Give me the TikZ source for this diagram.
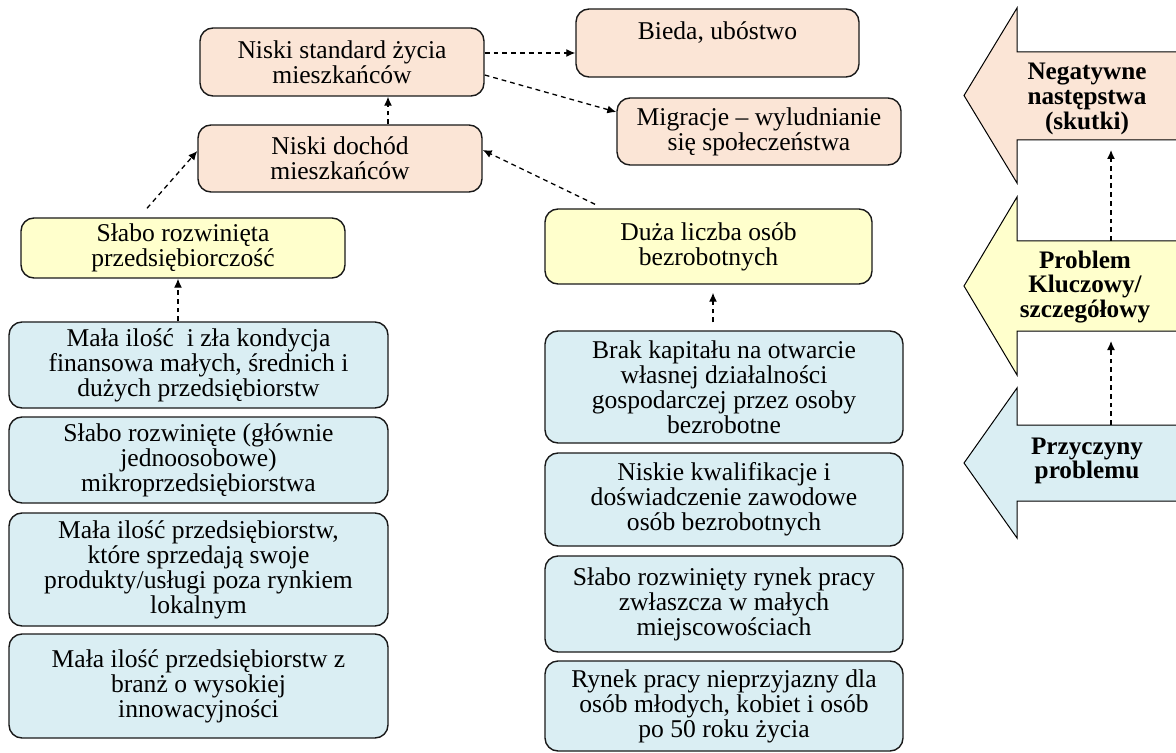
\documentclass[tikz,border=0pt]{standalone}
\usepackage{fontspec}
\setmainfont{Liberation Serif}
\usetikzlibrary{arrows.meta}
\definecolor{peach}{RGB}{251, 229, 214}
\definecolor{lemon}{RGB}{255, 255, 204}
\definecolor{sky}{RGB}{218, 238, 243}

\begin{document}
\begin{tikzpicture}[x=0.5pt, y=-0.5pt,
    box/.style={draw=black!90, line width=0.7pt, rounded corners=6.5pt, inner sep=0pt,
      align=center, font=\fontsize{12.8}{12.5}\selectfont},
    effect/.style={box, fill=peach},
    key/.style={box, fill=lemon},
    cause/.style={box, fill=sky},
    tag/.style={align=center, font=\fontsize{12.6}{12.3}\selectfont\bfseries},
    link/.style={dashed, dash pattern=on 2.4pt off 2pt, line width=0.65pt,
      -{Latex[length=4.5pt, width=4pt]}}]
  \useasboundingbox (0, 0) rectangle (1176, 753);

  % big arrows on the right
  \foreach \col/\ht/\st/\sb/\hb in {peach/8/52/140/183, lemon/197/241/331/375, sky/388/425/501/538} {
    \filldraw[fill=\col, draw=black, line width=0.5pt]
      (1190, \st) -- (1017, \st) -- (1017, \ht) -- (964, {(\ht + \hb) / 2})
      -- (1017, \hb) -- (1017, \sb) -- (1190, \sb);
  }
  \node[tag] (neg) at (1087, 99) {Negatywne\\następstwa\\(skutki)};
  \node[tag] (prob) at (1085, 287) {Problem\\Kluczowy/\\szczegółowy};
  \node[tag] (prz) at (1087, 461) {Przyczyny\\problemu};

  \coordinate (negbot) at (1111, 140);
  \coordinate (probtop) at (1111, 241);
  \coordinate (probbot) at (1111, 331);
  \coordinate (prztop) at (1111, 425);
  \draw[link, shorten >=5pt] (probtop) -- (negbot);
  \draw[link, shorten >=5pt] (prztop) -- (probbot);

  % effects
  \node[effect, minimum width=142pt, minimum height=34pt] (std) at (342, 62)
    {Niski standard życia\\mieszkańców};
  \node[effect, minimum width=142pt, minimum height=33.5pt] (doch) at (340, 158.5)
    {Niski dochód\\mieszkańców};
  \node[effect, minimum width=141.5pt, minimum height=34pt] (bieda) at (717.5, 43)
    {Bieda, ubóstwo\\~};
  \node[effect, minimum width=142pt, minimum height=33.5pt] (migr) at (759, 131.5)
    {Migracje – wyludnianie\\się społeczeństwa};

  % key problems
  \node[key, minimum width=162pt, minimum height=30pt] (slabo) at (183, 248)
    {Słabo rozwinięta\\przedsiębiorczość};
  \node[key, minimum width=163.5pt, minimum height=37.5pt] (duza) at (708.5, 246.5)
    {Duża liczba osób\\bezrobotnych};

  % causes, left
  \node[cause, minimum width=189.5pt, minimum height=43pt] (mala1) at (198.5, 365)
    {Mała ilość~ i zła kondycja\\finansowa małych, średnich i\\dużych przedsiębiorstw};
  \node[cause, minimum width=189.5pt, minimum height=43pt] (mikro) at (198.5, 460)
    {Słabo rozwinięte (głównie\\jednoosobowe)\\mikroprzedsiębiorstwa};
  \node[cause, minimum width=189.5pt, minimum height=56.5pt] (mala2) at (198.5, 569.5)
    {Mała ilość przedsiębiorstw,\\które sprzedają swoje\\produkty/usługi poza rynkiem\\lokalnym};
  \node[cause, minimum width=189.5pt, minimum height=52pt] (mala3) at (198.5, 686)
    {Mała ilość przedsiębiorstw z\\branż o wysokiej\\innowacyjności};

  % causes, right
  \node[cause, minimum width=179pt, minimum height=56pt] (brak) at (724, 387)
    {Brak kapitału na otwarcie\\własnej działalności\\gospodarczej przez osoby\\bezrobotne};
  \node[cause, minimum width=179pt, minimum height=46.5pt] (kwal) at (724, 499.5)
    {Niskie kwalifikacje i\\doświadczenie zawodowe\\osób bezrobotnych};
  \node[cause, minimum width=179pt, minimum height=48pt] (rynek) at (724, 604)
    {Słabo rozwinięty rynek pracy\\zwłaszcza w małych\\miejscowościach};
  \node[cause, minimum width=179pt, minimum height=45pt] (mlodzi) at (724, 706)
    {Rynek pracy nieprzyjazny dla\\osób młodych, kobiet i osób\\po 50 roku życia};

  % links
  \draw[link] ([yshift=4.5pt]std.east) -- ([yshift=4.5pt]std.east -| bieda.west);
  \draw[link] ([yshift=-6.5pt]std.east) -- ([yshift=9.75pt]migr.west);
  \draw[link] ([xshift=24pt]doch.north) -- ([xshift=24pt]doch.north |- std.south);
  \draw[link] ([xshift=-18pt, yshift=4.5pt]slabo.north) -- ([yshift=3.75pt]doch.west);
  \draw[link] ([xshift=-56.75pt, yshift=2pt]duza.north) -- ([yshift=4.25pt]doch.east);
  \draw[link] ([xshift=-10.25pt]mala1.north) -- ([xshift=-10.25pt]mala1.north |- slabo.south);
  \draw[link, shorten <=4pt, shorten >=4pt] ([xshift=-5.5pt]brak.north)
    -- ([xshift=-5.5pt]brak.north |- duza.south);
\end{tikzpicture}
\end{document}
